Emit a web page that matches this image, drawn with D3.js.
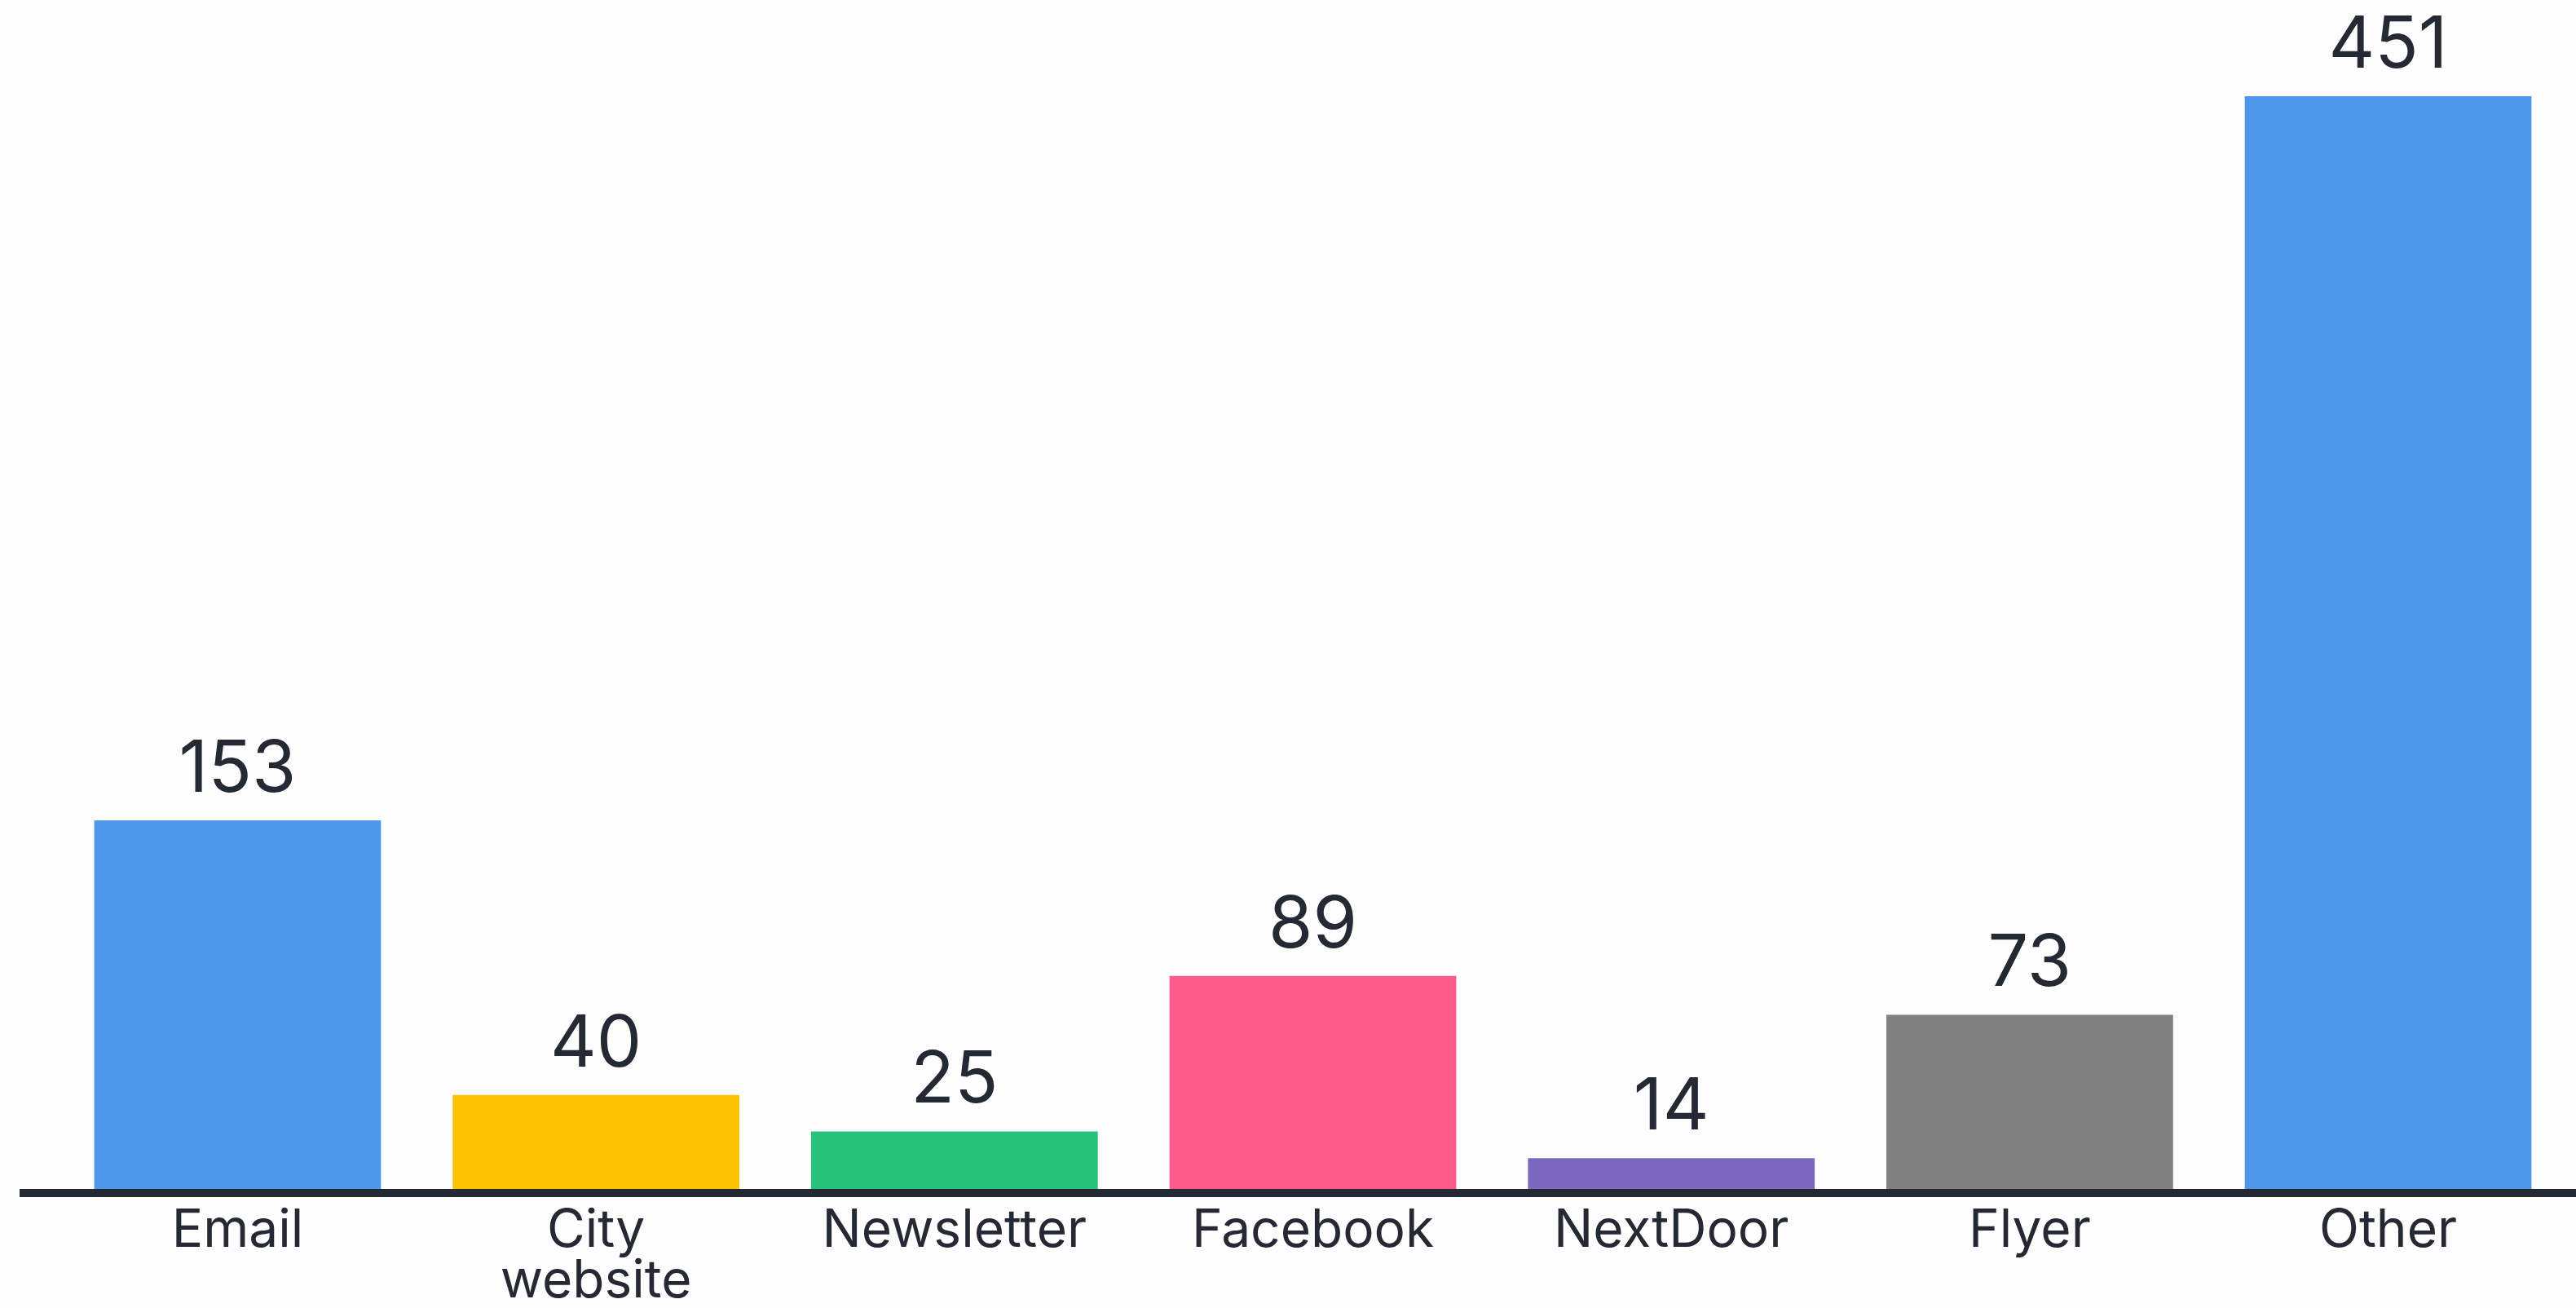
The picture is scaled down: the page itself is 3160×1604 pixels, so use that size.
<!DOCTYPE html>
<html>
<head>
<meta charset="utf-8">
<script src="https://cdn.jsdelivr.net/npm/d3@7"></script>
<style>
  body { margin: 0; background: #fdfdfd; }
  svg { display: block; font-family: Inter, "Open Sans", sans-serif; }
  .value { font-size: 88px; fill: #252934; text-anchor: middle; }
  .cat { font-size: 64px; fill: #252934; text-anchor: middle; }
</style>
</head>
<body>
<svg id="chart"></svg>
<script>
// chart data
var categories = ["Email", "City website", "Newsletter", "Facebook", "NextDoor", "Flyer", "Other"];
var counts = [153, 40, 25, 89, 14, 73, 451];
var barColors = ["#4e98ec", "#fdc300", "#27c27b", "#fe5a8c", "#7b68be", "#808080", "#4e98ec"];

var width = 3160,
    height = 1604;

var svg = d3.select("#chart")
    .attr("width", width)
    .attr("height", height);

var x = d3.scaleBand()
    .domain(categories)
    .range([71.6, 3149.4])
    .paddingInner(0.2)
    .paddingOuter(0.1);

var y = d3.scaleLinear()
    .domain([0, d3.max(counts)])
    .range([1462, 118]);

var data = categories.map(function(c, i) {
  return { name: c, value: counts[i], color: barColors[i] };
});

// bars
svg.append("g")
  .selectAll("rect")
    .data(data)
  .enter().append("rect")
    .attr("x", function(d) { return x(d.name); })
    .attr("y", function(d) { return y(d.value); })
    .attr("width", x.bandwidth())
    .attr("height", function(d) { return y(0) - y(d.value); })
    .style("fill", function(d) { return d.color; });

// value labels above bars
svg.append("g")
  .selectAll("text")
    .data(data)
  .enter().append("text")
    .attr("class", "value")
    .attr("x", function(d) { return x(d.name) + x.bandwidth() / 2; })
    .attr("y", function(d) { return y(d.value) - 35; })
    .text(function(d) { return d.value; });

// baseline
svg.append("line")
    .attr("x1", 24)
    .attr("x2", width)
    .attr("y1", y(0) + 1)
    .attr("y2", y(0) + 1)
    .style("stroke", "#242833")
    .style("stroke-width", 10);

// category labels, split on space for "City website"
var cats = svg.append("g")
  .selectAll("text")
    .data(data)
  .enter().append("text")
    .attr("class", "cat")
    .attr("x", function(d) { return x(d.name) + x.bandwidth() / 2; })
    .attr("y", 1529);

cats.each(function(d) {
  var words = d.name === "City website" ? ["City", "website"] : [d.name];
  var t = d3.select(this);
  words.forEach(function(w, i) {
    t.append("tspan")
        .attr("x", x(d.name) + x.bandwidth() / 2)
        .attr("dy", i === 0 ? 0 : 62)
        .text(w);
  });
});
</script>
</body>
</html>
